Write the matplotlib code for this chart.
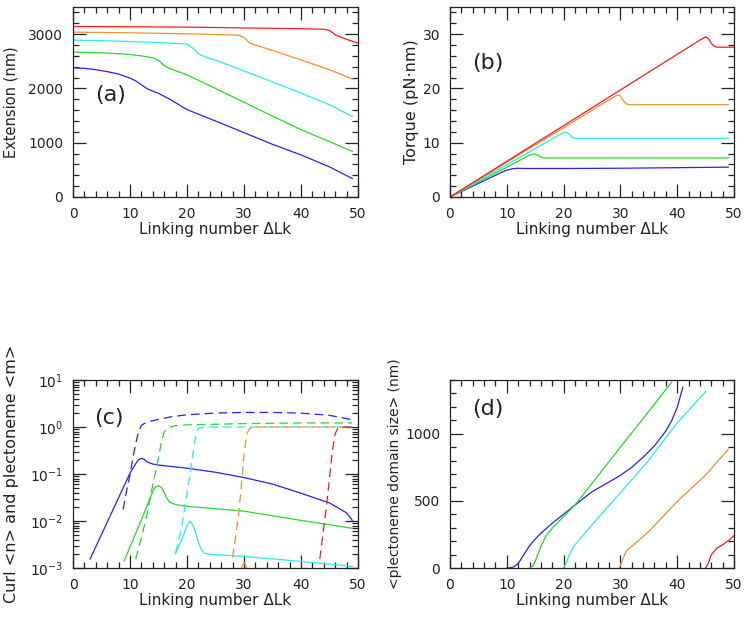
import matplotlib
matplotlib.use("Agg")
import matplotlib.pyplot as plt
from matplotlib.ticker import MultipleLocator, LogLocator, NullFormatter

plt.rcParams['font.family'] = ['DejaVu Sans']
plt.rcParams['mathtext.default'] = 'regular'

COLORS = {'blue': '#2222ff', 'green': '#22dd22', 'cyan': '#22eeee',
          'orange': '#f59030', 'red': '#ff1a1a'}
ORDER = ['blue', 'green', 'cyan', 'orange', 'red']

# ---------------- Panel (a): Extension (nm) ----------------
ext_x = {
    'blue':   [0, 2, 4, 6, 8, 10, 11, 12, 13, 14, 15, 17, 20, 25, 30, 35, 40, 45, 49],
    'green':  [0, 4, 8, 10, 12, 14, 15, 16, 17, 20, 25, 30, 35, 40, 45, 49],
    'cyan':   [0, 5, 10, 15, 19, 20, 21, 22, 23, 25, 30, 35, 40, 45, 49],
    'orange': [0, 10, 20, 28, 29, 30, 31, 32, 35, 40, 45, 49],
    'red':    [0, 10, 20, 30, 40, 44, 45, 46, 47, 48, 50],
}
ext_y = {
    'blue':   [2380, 2370, 2345, 2310, 2265, 2190, 2140, 2067, 1995, 1950, 1910, 1800,
               1610, 1400, 1185, 970, 775, 555, 340],
    'green':  [2669, 2660, 2640, 2625, 2600, 2565, 2515, 2420, 2365, 2250, 2000, 1745,
               1490, 1240, 1020, 840],
    'cyan':   [2890, 2880, 2865, 2845, 2825, 2815, 2745, 2635, 2590, 2520, 2325, 2120,
               1915, 1700, 1485],
    'orange': [3037, 3025, 3006, 2985, 2980, 2940, 2835, 2800, 2700, 2525, 2345, 2172],
    'red':    [3141, 3136, 3129, 3115, 3100, 3090, 3067, 2990, 2945, 2905, 2834],
}

# ---------------- Panel (b): Torque (pN nm) ----------------
tq_x = {
    'blue':   [0, 9, 10, 11, 12, 13, 20, 30, 40, 49],
    'green':  [0, 14, 14.7, 15.5, 16, 16.5, 49],
    'cyan':   [0, 19.5, 20.3, 21, 21.5, 22, 49],
    'orange': [0, 28.5, 29.5, 30, 30.5, 31, 31.5, 49],
    'red':    [0, 44, 45, 45.5, 46, 46.5, 47, 50],
}
tq_y = {
    'blue':   [0, 4.5, 4.95, 5.2, 5.3, 5.25, 5.25, 5.3, 5.4, 5.5],
    'green':  [0, 7.7, 7.95, 7.7, 7.35, 7.2, 7.2],
    'cyan':   [0, 11.6, 12.0, 11.6, 11.0, 10.8, 10.8],
    'orange': [0, 18.2, 18.8, 18.6, 17.8, 17.2, 17.0, 17.0],
    'red':    [0, 28.9, 29.5, 29.2, 28.3, 27.8, 27.6, 27.6],
}

# ---------------- Panel (c): curl <n> (solid) and plectoneme <m> (dashed) ----------------
curl_x = {
    'blue':   [3, 10, 11, 11.5, 12, 12.5, 13, 14, 15, 20, 25, 30, 35, 40, 45, 48, 49],
    'green':  [9, 12, 14, 14.5, 15, 15.5, 16, 16.5, 17, 18, 20, 30, 40, 49],
    'cyan':   [18, 19, 20, 20.5, 21, 21.5, 22, 22.5, 23, 24, 30, 40, 49],
    'orange': [28, 29.3, 29.7, 30, 30.3, 30.7, 32, 40, 49],
}
curl_y = {
    'blue':   [1.55e-3, 0.104, 0.165, 0.2, 0.215, 0.205, 0.18, 0.163, 0.155, 0.133, 0.109,
               0.084, 0.061, 0.039, 0.0242, 0.0149, 0.0103],
    'green':  [1.43e-3, 0.0106, 0.0427, 0.053, 0.056, 0.052, 0.040, 0.030, 0.025, 0.0224,
               0.0205, 0.0162, 0.0103, 0.0070],
    'cyan':   [2.04e-3, 3.8e-3, 7.8e-3, 0.0100, 8.5e-3, 5.8e-3, 3.5e-3, 2.5e-3, 2.07e-3,
               1.97e-3, 1.76e-3, 1.38e-3, 1.08e-3],
    'orange': [3e-4, 8e-4, 1.15e-3, 1.3e-3, 1.15e-3, 8e-4, 4e-4, 3e-4, 2.5e-4],
}
plec_x = {
    'blue':   [8.8, 9.5, 10, 10.5, 11, 11.5, 12, 13, 15, 17, 20, 25, 30, 35, 40, 45, 49],
    'green':  [11, 12, 13, 14, 15, 15.5, 16, 17, 18, 20, 30, 40, 49],
    'cyan':   [18, 19, 20, 20.5, 21, 21.5, 22, 23, 30, 49],
    'orange': [28, 29, 29.5, 30, 30.5, 31, 32, 49],
    'red':    [43.3, 44, 44.5, 45, 45.5, 46, 46.5, 47, 49],
}
plec_y = {
    'blue':   [0.0175, 0.050, 0.096, 0.215, 0.445, 0.786, 1.09, 1.28, 1.45, 1.63, 1.82,
               1.98, 2.04, 2.04, 1.97, 1.77, 1.43],
    'green':  [1.55e-3, 4.4e-3, 0.0138, 0.059, 0.215, 0.48, 0.79, 1.0, 1.07, 1.11, 1.18,
               1.22, 1.22],
    'cyan':   [2.1e-3, 6.6e-3, 0.039, 0.096, 0.253, 0.62, 0.93, 1.0, 1.0, 1.0],
    'orange': [1.68e-3, 0.0117, 0.05, 0.253, 0.72, 0.93, 1.0, 1.0],
    'red':    [1.55e-3, 7.2e-3, 0.022, 0.081, 0.3, 0.72, 0.97, 1.0, 1.0],
}

# ---------------- Panel (d): <plectoneme domain size> (nm) ----------------
dom_x = {
    'blue':   [10, 11, 11.5, 12, 12.5, 13, 14, 15, 16, 18, 20, 22, 25, 28, 30, 32, 34,
               36, 38, 39, 40, 41],
    'green':  [14, 14.5, 15, 16, 17, 18, 20, 22, 25, 30, 35, 39],
    'cyan':   [20, 20.5, 21, 22, 25, 30, 35, 40, 45],
    'orange': [29.8, 30.5, 31, 32, 35, 40, 45, 49],
    'red':    [45, 45.5, 46, 47, 48, 49, 50],
}
dom_y = {
    'blue':   [0, 5, 15, 35, 65, 100, 165, 215, 259, 333, 400, 469, 568, 640, 690, 750,
               825, 910, 1020, 1095, 1195, 1346],
    'green':  [0, 12, 49, 160, 247, 296, 383, 469, 630, 900, 1166, 1383],
    'cyan':   [0, 40, 99, 173, 321, 560, 803, 1080, 1314],
    'orange': [0, 74, 124, 161, 272, 495, 692, 885],
    'red':    [0, 37, 99, 148, 173, 203, 240],
}

XLABEL = 'Linking number \u0394Lk'
TXT = '#222222'
FS = 10

fig = plt.figure(figsize=(7.51, 6.19), dpi=100)
W, H = 751.0, 619.0


def make_ax(l, r, t, b):
    return fig.add_axes([l / W, 1 - b / H, (r - l) / W, (b - t) / H])


def style(ax, ymajor=None, yminor=None):
    ax.set_xlim(0, 50)
    ax.xaxis.set_major_locator(MultipleLocator(10))
    ax.xaxis.set_minor_locator(MultipleLocator(2))
    if ymajor is not None:
        ax.yaxis.set_major_locator(MultipleLocator(ymajor))
        ax.yaxis.set_minor_locator(MultipleLocator(yminor))
    ax.tick_params(which='both', direction='in', top=True, right=True,
                   colors=TXT, labelcolor=TXT, labelsize=FS, width=0.9)
    ax.tick_params(which='major', length=9.5, pad=7)
    ax.tick_params(which='minor', length=4.2)
    for s in ax.spines.values():
        s.set_color(TXT)
        s.set_linewidth(0.9)
    ax.set_xlabel(XLABEL, fontsize=11, color=TXT)


LW = 0.9

# (a)
axa = make_ax(73, 358, 7, 197)
for c in ORDER:
    axa.plot(ext_x[c], ext_y[c], color=COLORS[c], lw=LW)
axa.set_ylim(0, 3500)
style(axa, 1000, 200)
axa.set_ylabel('Extension (nm)', fontsize=10.5, color=TXT)
axa.text(0.077, 0.537, '(a)', transform=axa.transAxes, fontsize=16, color=TXT,
         ha='left', va='center')

# (b)
axb = make_ax(450, 734, 7, 197)
for c in ORDER:
    axb.plot(tq_x[c], tq_y[c], color=COLORS[c], lw=LW)
axb.set_ylim(0, 35)
style(axb, 10, 2)
axb.set_ylabel('Torque (pN\u00b7nm)', fontsize=11.5, color=TXT)
axb.text(0.077, 0.705, '(b)', transform=axb.transAxes, fontsize=16, color=TXT,
         ha='left', va='center')

# (c)
axc = make_ax(73, 358, 380, 568)
for c in ORDER:
    if c in curl_x:
        axc.plot(curl_x[c], curl_y[c], color=COLORS[c], lw=LW)
for c in ORDER:
    axc.plot(plec_x[c], plec_y[c], color=COLORS[c], lw=LW, dashes=(7, 4))
axc.set_yscale('log')
axc.set_ylim(1e-3, 1e1)
style(axc)
axc.yaxis.set_major_locator(LogLocator(base=10, numticks=10))
axc.yaxis.set_minor_locator(LogLocator(base=10, subs=range(2, 10), numticks=10))
axc.yaxis.set_minor_formatter(NullFormatter())
axc.set_ylabel('Curl <n> and plectoneme <m>', fontsize=11.5, color=TXT)
axc.text(0.074, 0.80, '(c)', transform=axc.transAxes, fontsize=16, color=TXT,
         ha='left', va='center')

# (d)
axd = make_ax(450, 734, 380, 568)
for c in ORDER:
    axd.plot(dom_x[c], dom_y[c], color=COLORS[c], lw=LW)
axd.set_ylim(0, 1400)
style(axd, 500, 100)
axd.set_ylabel('<plectoneme domain size> (nm)', fontsize=10, color=TXT)
axd.text(0.077, 0.846, '(d)', transform=axd.transAxes, fontsize=16, color=TXT,
         ha='left', va='center')

for ax in (axa, axc):
    ax.yaxis.set_label_coords(-0.19, 0.5)
for ax in (axb,):
    ax.yaxis.set_label_coords(-0.11, 0.5)
axd.yaxis.set_label_coords(-0.17, 0.5)
for ax in (axa, axb):
    ax.xaxis.set_label_coords(0.5, -0.13)
for ax in (axc, axd):
    ax.xaxis.set_label_coords(0.5, -0.135)

fig.savefig('out.png', dpi=100)
